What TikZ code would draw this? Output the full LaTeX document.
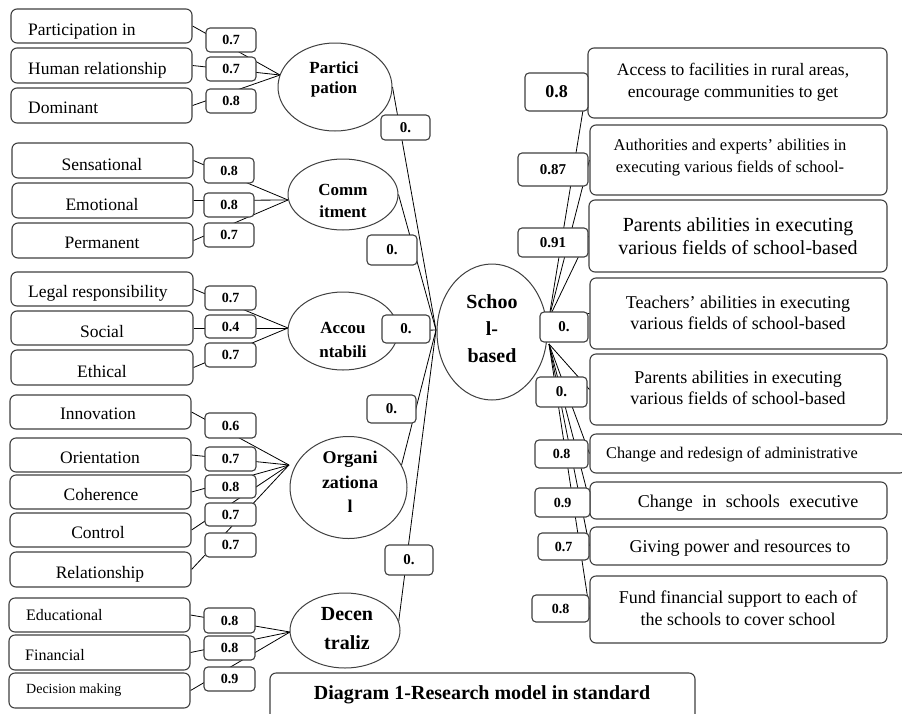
\documentclass[tikz,border=0pt]{standalone}
\usepackage{fontspec}
\setmainfont{Liberation Serif}
\usetikzlibrary{shapes.geometric}
\pgfdeclarelayer{bg}
\pgfsetlayers{bg,main}
\newcommand\bx[7]{\node[#6, minimum width={(#4-#2)*1pt}, minimum height={(#5-#3)*1pt}] (#1) at ({(#2+#4)/2},{(#3+#5)/2}) {#7};}
\newcommand\fsz[1]{\fontsize{#1}{#1}\selectfont}
\begin{document}
\begin{tikzpicture}[x=1pt,y=-1pt,
  ibox/.style={draw=black!75, line width=1.1pt, rounded corners=6pt, fill=white, inner sep=0pt},
  wbox/.style={draw=black!75, line width=1.1pt, rounded corners=4pt, fill=white, inner sep=0pt, font=\fsz{14}\bfseries},
  rwbox/.style={wbox, font=\fsz{15}\bfseries},
  lat/.style={draw=black!75, line width=1pt, ellipse, fill=white, inner sep=0pt},
  conn/.style={draw=black, line width=0.8pt},
  tx/.style={inner sep=0pt, font=\fsz{17.5}},
  ltx/.style={inner sep=0pt, font=\fsz{17}\bfseries, anchor=base},
]
\path[use as bounding box, clip] (0,0) rectangle (902,713);

% ---------- latent ellipses ----------
\node[lat, minimum width=114pt, minimum height=88pt] (P) at (335,87) {};
\node[lat, minimum width=110pt, minimum height=71pt] (C) at (343,194.5) {};
\node[lat, minimum width=110pt, minimum height=78pt] (A) at (343,331) {};
\node[lat, minimum width=117pt, minimum height=102pt] (O) at (348.5,487.5) {};
\node[lat, minimum width=110pt, minimum height=75pt] (D) at (345,630.5) {};
\node[lat, minimum width=110pt, minimum height=136pt] (S) at (492,332) {};

% convergence points
\coordinate (cP) at (280,75);
\coordinate (cC) at (288,200);
\coordinate (cA) at (288,328);
\coordinate (cO) at (289,465);
\coordinate (cD) at (290,632);
\coordinate (cSL) at (436,330);
\coordinate (cRu) at (549,318);
\coordinate (cRl) at (549,344);

% ---------- left indicator boxes ----------
\bx{pa}{11}{9}{192}{43}{ibox}{}
\bx{pb}{11}{48}{192}{83}{ibox}{}
\bx{pc}{11}{88}{192}{123}{ibox}{}
\bx{ca}{12}{143}{193}{178}{ibox}{}
\bx{cb}{12}{183}{193}{218}{ibox}{}
\bx{cc}{12}{223}{193}{258}{ibox}{}
\bx{aa}{11}{272}{193}{306}{ibox}{}
\bx{ab}{11}{311}{193}{345}{ibox}{}
\bx{ac}{11}{350}{193}{385}{ibox}{}
\bx{oa}{10}{395}{191}{429}{ibox}{}
\bx{ob}{10}{438}{191}{472}{ibox}{}
\bx{oc}{10}{475}{191}{509}{ibox}{}
\bx{od}{10}{513}{191}{547}{ibox}{}
\bx{oe}{10}{552}{191}{587}{ibox}{}
\bx{da}{9}{598}{190}{632}{ibox}{}
\bx{db}{9}{635}{190}{670}{ibox}{}
\bx{dc}{9}{673}{190}{708}{ibox}{}

% ---------- right indicator boxes ----------
\bx{r1}{588}{48}{887}{118}{ibox}{}
\bx{r2}{590}{125}{887}{195}{ibox}{}
\bx{r3}{589}{200}{887}{272}{ibox}{}
\bx{r4}{590}{278}{887}{349}{ibox}{}
\bx{r5}{590}{354}{887}{425}{ibox}{}
\bx{r6}{590}{434}{906}{473}{ibox}{}
\bx{r7}{590}{482}{887}{519}{ibox}{}
\bx{r8}{590}{527}{887}{565}{ibox}{}
\bx{r9}{590}{576}{887}{643}{ibox}{}

% ---------- caption ----------
\bx{cap}{270}{673}{695}{724}{ibox}{}

% ---------- connectors (background) ----------
\begin{pgfonlayer}{bg}
\fill[white] (0,0) rectangle (902,713);
\foreach \n in {pa,pb,pc} \draw[conn] (\n.east) -- (cP);
\foreach \n in {ca,cb,cc} \draw[conn] (\n.east) -- (cC);
\foreach \n in {aa,ab,ac} \draw[conn] (\n.east) -- (cA);
\foreach \n in {oa,ob,oc,od,oe} \draw[conn] (\n.east) -- (cO);
\foreach \n in {da,db,dc} \draw[conn] (\n.east) -- (cD);
\draw[conn] (P.east) -- (cSL);
\draw[conn] (C.east) -- (cSL);
\draw[conn] (A.east) -- (cSL);
\draw[conn] (O.23) -- (cSL);
\draw[conn] (D.10) -- (cSL);
\foreach \n in {r1,r2,r3,r4} \draw[conn] (cRu) -- (\n.west);
\foreach \n in {r5,r6,r7,r8,r9} \draw[conn] (cRl) -- (\n.west);
\end{pgfonlayer}

% ---------- weight boxes ----------
\bx{pw1}{206}{28}{256}{52}{wbox}{0.7}
\bx{pw2}{206}{57}{256}{81}{wbox}{0.7}
\bx{pw3}{206}{89}{256}{113}{wbox}{0.8}
\bx{cw1}{204}{158}{254}{183}{wbox}{0.8}
\bx{cw2}{204}{193}{254}{217}{wbox}{0.8}
\bx{cw3}{204}{223}{254}{247}{wbox}{0.7}
\bx{aw1}{205}{286}{256}{310}{wbox}{0.7}
\bx{aw2}{205}{315}{256}{338}{wbox}{0.4}
\bx{aw3}{205}{343}{256}{367}{wbox}{0.7}
\bx{ow1}{205}{413}{256}{438}{wbox}{0.6}
\bx{ow2}{205}{447}{256}{471}{wbox}{0.7}
\bx{ow3}{205}{475}{256}{498}{wbox}{0.8}
\bx{ow4}{205}{503}{256}{526}{wbox}{0.7}
\bx{ow5}{205}{533}{256}{557}{wbox}{0.7}
\bx{dw1}{204}{608}{255}{633}{wbox}{0.8}
\bx{dw2}{204}{636}{255}{660}{wbox}{0.8}
\bx{dw3}{204}{667}{255}{691}{wbox}{0.9}
\bx{ps}{381}{115}{430}{140}{rwbox}{0.}
\bx{cs}{367}{235}{417}{265}{rwbox}{0.}
\bx{as}{382}{315}{430}{343}{rwbox}{0.}
\bx{os}{367}{395}{416}{423}{rwbox}{0.}
\bx{ds}{385}{545}{433}{575}{rwbox}{0.}
\bx{rw1}{525}{73}{588}{111}{wbox}{\fsz{18}\bfseries 0.8}
\bx{rw2}{518}{153}{588}{186}{rwbox}{0.87}
\bx{rw3}{518}{228}{588}{257}{rwbox}{0.91}
\bx{rw4}{540}{312}{588}{342}{rwbox}{0.}
\bx{rw5}{536}{377}{587}{407}{rwbox}{0.}
\bx{rw6}{535}{440}{588}{468}{wbox}{0.8}
\bx{rw7}{535}{488}{590}{517}{wbox}{0.9}
\bx{rw8}{538}{533}{589}{560}{wbox}{0.7}
\bx{rw9}{532}{595}{589}{622}{wbox}{0.8}

% ---------- left indicator texts ----------
\node[tx, anchor=base west] (pat) at (28,35) {Participation in};
\node[tx, anchor=base west] (pbt) at (28,74) {Human relationship};
\node[tx, anchor=base west] (pct) at (28,113) {Dominant};
\node[tx, anchor=base] (cat) at (102,170) {Sensational};
\node[tx, anchor=base] (cbt) at (102,210) {Emotional};
\node[tx, anchor=base] (cct) at (102,248) {Permanent};
\node[tx, anchor=base west] (aat) at (28,297) {Legal responsibility};
\node[tx, anchor=base] (abt) at (102,337) {Social};
\node[tx, anchor=base] (act) at (102,377) {Ethical};
\node[tx, anchor=base] (oat) at (98,419) {Innovation};
\node[tx, anchor=base] (obt) at (100,463) {Orientation};
\node[tx, anchor=base] (oct) at (101,500) {Coherence};
\node[tx, anchor=base] (odt) at (98,538) {Control};
\node[tx, anchor=base] (oet) at (100,578) {Relationship};
\node[tx, anchor=base west, font=\fsz{16}] (dat) at (26,620) {Educational};
\node[tx, anchor=base west, font=\fsz{16}] (dbt) at (25,660) {Financial};
\node[tx, anchor=base west, font=\fsz{14}] (dct) at (26,693) {Decision making};

% ---------- latent texts ----------
\node[ltx] (Pt1) at (334,73) {Partici};
\node[ltx] (Pt2) at (334,93) {pation};
\node[ltx] (Ct1) at (343,195) {Comm};
\node[ltx] (Ct2) at (343,217) {itment};
\node[ltx] (At1) at (343,333) {Accou};
\node[ltx] (At2) at (343,357) {ntabili};
\node[ltx, font=\fsz{18}\bfseries] (Ot1) at (350,463) {Organi};
\node[ltx, font=\fsz{18}\bfseries] (Ot2) at (350,488) {zationa};
\node[ltx, font=\fsz{18}\bfseries] (Ot3) at (350,512) {l};
\node[ltx, font=\fsz{20}\bfseries] (Dt1) at (347,620) {Decen};
\node[ltx, font=\fsz{20}\bfseries] (Dt2) at (347,649) {traliz};
\node[ltx, font=\fsz{20}\bfseries] (St1) at (492,308) {Schoo};
\node[ltx, font=\fsz{20}\bfseries] (St2) at (492,335) {l-};
\node[ltx, font=\fsz{20}\bfseries] (St3) at (492,362) {based};

% ---------- right indicator texts ----------
\node[tx, anchor=base] (r1t1) at (733,75) {Access to facilities in rural areas,};
\node[tx, anchor=base] (r1t2) at (733,97) {encourage communities to get};
\node[tx, anchor=base, font=\fsz{16.5}] (r2t1) at (730,150) {Authorities and experts' abilities in};
\node[tx, anchor=base, font=\fsz{16.5}] (r2t2) at (730,172) {executing various fields of school-};
\node[tx, anchor=base, font=\fsz{20}] (r3t1) at (738,231) {Parents abilities in executing};
\node[tx, anchor=base, font=\fsz{20}] (r3t2) at (738,254) {various fields of school-based};
\node[tx, anchor=base, font=\fsz{18}] (r4t1) at (738,308) {Teachers' abilities in executing};
\node[tx, anchor=base, font=\fsz{18}] (r4t2) at (738,329) {various fields of school-based};
\node[tx, anchor=base, font=\fsz{18}] (r5t1) at (738,383) {Parents abilities in executing};
\node[tx, anchor=base, font=\fsz{18}] (r5t2) at (738,404) {various fields of school-based};
\node[tx, anchor=base west, font=\fsz{16.3}] (r6t) at (606,458) {Change and redesign of administrative};
\node[tx, anchor=base, font=\fsz{18}] (r7t) at (748,507) {Change\hspace{5pt} in\hspace{5pt} schools\hspace{5pt} executive};
\node[tx, anchor=base, font=\fsz{18}] (r8t) at (740,552) {Giving power and resources to};
\node[tx, anchor=base, font=\fsz{18}] (r9t1) at (738,603) {Fund financial support to each of};
\node[tx, anchor=base, font=\fsz{18}] (r9t2) at (738,625) {the schools to cover school};

% ---------- caption text ----------
\node[tx, anchor=base, font=\fsz{20}\bfseries] (capt) at (482,699) {Diagram 1-Research model in standard};
\end{tikzpicture}
\end{document}
